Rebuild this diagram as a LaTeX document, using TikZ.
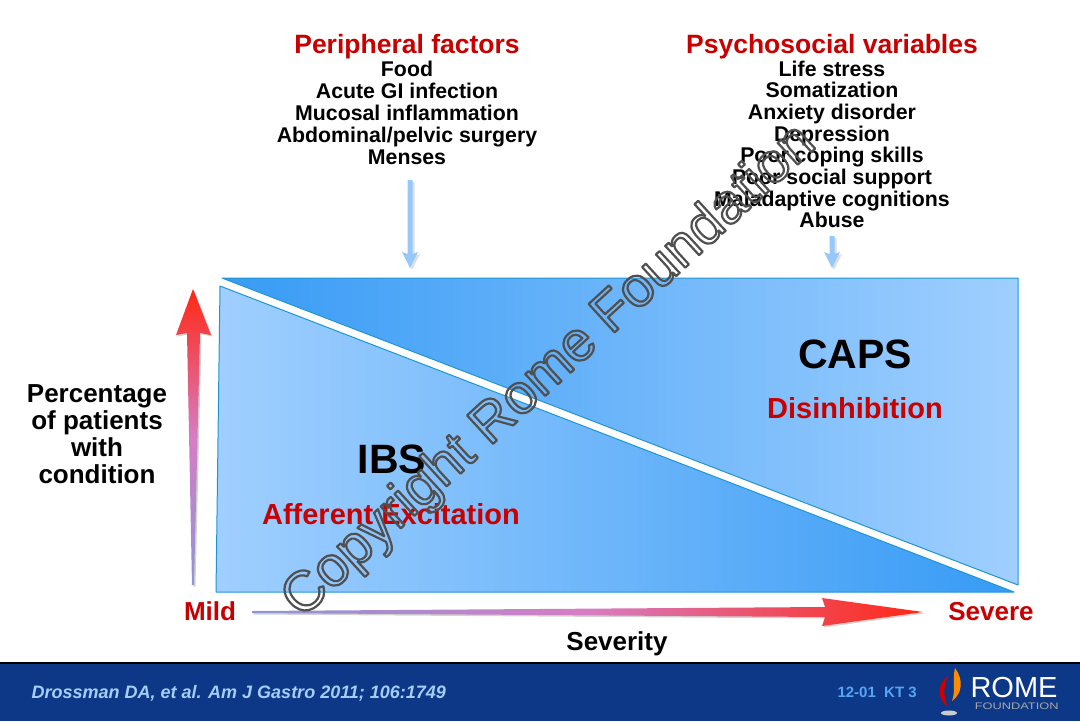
\documentclass[tikz,border=0pt]{standalone}
\usepackage{fontspec}
\setmainfont{Liberation Sans}
\usetikzlibrary{shadows}
\definecolor{redtxt}{RGB}{200,0,0}
\definecolor{edgeblue}{RGB}{30,150,210}
\definecolor{darkblue}{RGB}{55,155,245}
\definecolor{lightblue}{RGB}{160,207,255}
\definecolor{pointblue}{RGB}{150,200,250}
\definecolor{barblue}{RGB}{12,56,135}
\definecolor{reftxt}{RGB}{165,205,250}
\definecolor{codetxt}{RGB}{85,165,245}
\definecolor{arrowred}{RGB}{255,40,20}
\definecolor{arrowpink}{RGB}{215,125,195}
\definecolor{arrowlav}{RGB}{140,150,215}
\definecolor{wmgray}{RGB}{80,80,80}
\begin{document}
\begin{tikzpicture}[x=1pt, y=-1pt, line join=round, line cap=round,
	title/.style={anchor=base, text=redtxt, font=\bfseries\fontsize{26.5}{28}\selectfont},
	item/.style={anchor=base, font=\bfseries\fontsize{21.3}{22}\selectfont},
	big/.style={anchor=base, font=\bfseries\fontsize{41}{41}\selectfont},
	sub/.style={anchor=base, text=redtxt, font=\bfseries\fontsize{29}{29}\selectfont},
	axis/.style={anchor=base, font=\bfseries\fontsize{26}{27}\selectfont},
	tri/.style={draw=edgeblue, line width=1pt},
	pointer/.style={fill=pointblue, drop shadow={opacity=0.25, shadow xshift=2pt, shadow yshift=-2pt}},
	grad/.style={drop shadow={opacity=0.35, shadow xshift=1.5pt, shadow yshift=-1.5pt}}]
	\useasboundingbox (0,0) rectangle (1080,721);
	\def\xl{216} \def\xr{1018} \def\yt{278} \def\yb{592} % giới hạn khung
	% hai tam giác
	\path[tri, left color=darkblue, right color=lightblue] (\xl+6,\yt) -- (\xr,\yt) -- (\xr,\yb-7) -- cycle;
	\path[tri, left color=lightblue, right color=darkblue] (\xl+4,\yt+8) -- (\xr-4,\yb) -- (\xl,\yb) -- cycle;
	% trục
	\path[grad, top color=arrowred, bottom color=arrowlav, middle color=arrowpink]
		(193,289) -- (211,335) -- (200,333) -- (194,585) -- (192,585) -- (187,333) -- (176,335) -- cycle;
	\path[grad, left color=arrowlav, right color=arrowred, middle color=arrowpink]
		(252,611) -- (825,607) -- (822,598) -- (923,612) -- (822,626) -- (825,617) -- (252,613) -- cycle;
	% các nhóm yếu tố
	\node[title] (pf) at (407,53) {Peripheral factors};
	\foreach \txt [count=\i from 0] in {Food, Acute GI infection, Mucosal inflammation, Abdominal/pelvic surgery, Menses}
		\node[item] (pf\i) at (407,76+22*\i) {\txt};
	\node[title] (ps) at (832,53) {Psychosocial variables};
	\foreach \txt [count=\i from 0] in {Life stress, Somatization, Anxiety disorder, Depression, Poor coping skills, Poor social support, Maladaptive cognitions, Abuse}
		\node[item] (ps\i) at (832,76+21.7*\i) {\txt};
	\foreach \x/\y in {410/180, 832/236}
		\path[pointer] (\x-2.5,\y) -- (\x+2.5,\y) -- (\x+2.5,254) -- (\x+8,252) -- (\x,268) -- (\x-8,252) -- (\x-2.5,254) -- cycle;
	% nhãn trong khung
	\node[big] (caps) at (855,368) {CAPS};
	\node[sub] (dis) at (855,418) {Disinhibition};
	\node[big] (ibs) at (392,473) {IBS};
	\node[sub] (aff) at (391,524) {Afferent Excitation};
	\foreach \txt [count=\i from 0] in {Percentage, of patients, with, condition}
		\node[axis] (pct\i) at (97,402+27*\i) {\txt};
	\node[axis, text=redtxt] (mild) at (210,620) {Mild};
	\node[axis, text=redtxt] (sev) at (991,620) {Severe};
	\node[axis] (sevt) at (617,650) {Severity};
	% thanh dưới
	\fill[barblue] (0,663) rectangle (1080,721);
	\draw[line width=2pt] (0,663) -- (1080,663);
	\node[anchor=base west, text=reftxt, font=\bfseries\itshape\fontsize{18}{18}\selectfont] (ref) at (28,698) {Drossman DA, et al. Am J Gastro 2011; 106:1749};
	\node[anchor=base west, text=codetxt, font=\bfseries\fontsize{15}{15}\selectfont] (code) at (834,697) {12-01\ \ KT 3};
	\fill[red!80!black] (949,675) .. controls (937,683) and (936,699) .. (948,707) .. controls (943,697) and (943,685) .. cycle;
	\fill[orange!90!yellow] (955,668) .. controls (964,680) and (962,694) .. (952,701) .. controls (956,691) and (952,680) .. cycle;
	\fill[gray!40] (949,713) ellipse [x radius=8, y radius=2.5];
	\node[anchor=base west, text=white, font=\fontsize{29}{29}\selectfont] (rome) at (967,697) {ROME};
	\node[anchor=base west, text=gray!70!white, font=\fontsize{9.5}{10}\selectfont, xscale=1.35] (found) at (970,709) {FOUNDATION};
	% dấu nước
	\node[rotate=42.5, text=wmgray, font=\fontsize{56}{56}\selectfont] (wm) at (550,372)
		{\special{pdf:literal direct 1 Tr 2.2 w}Copyright Rome Foundation\special{pdf:literal direct 0 Tr}};
\end{tikzpicture}
\end{document}
